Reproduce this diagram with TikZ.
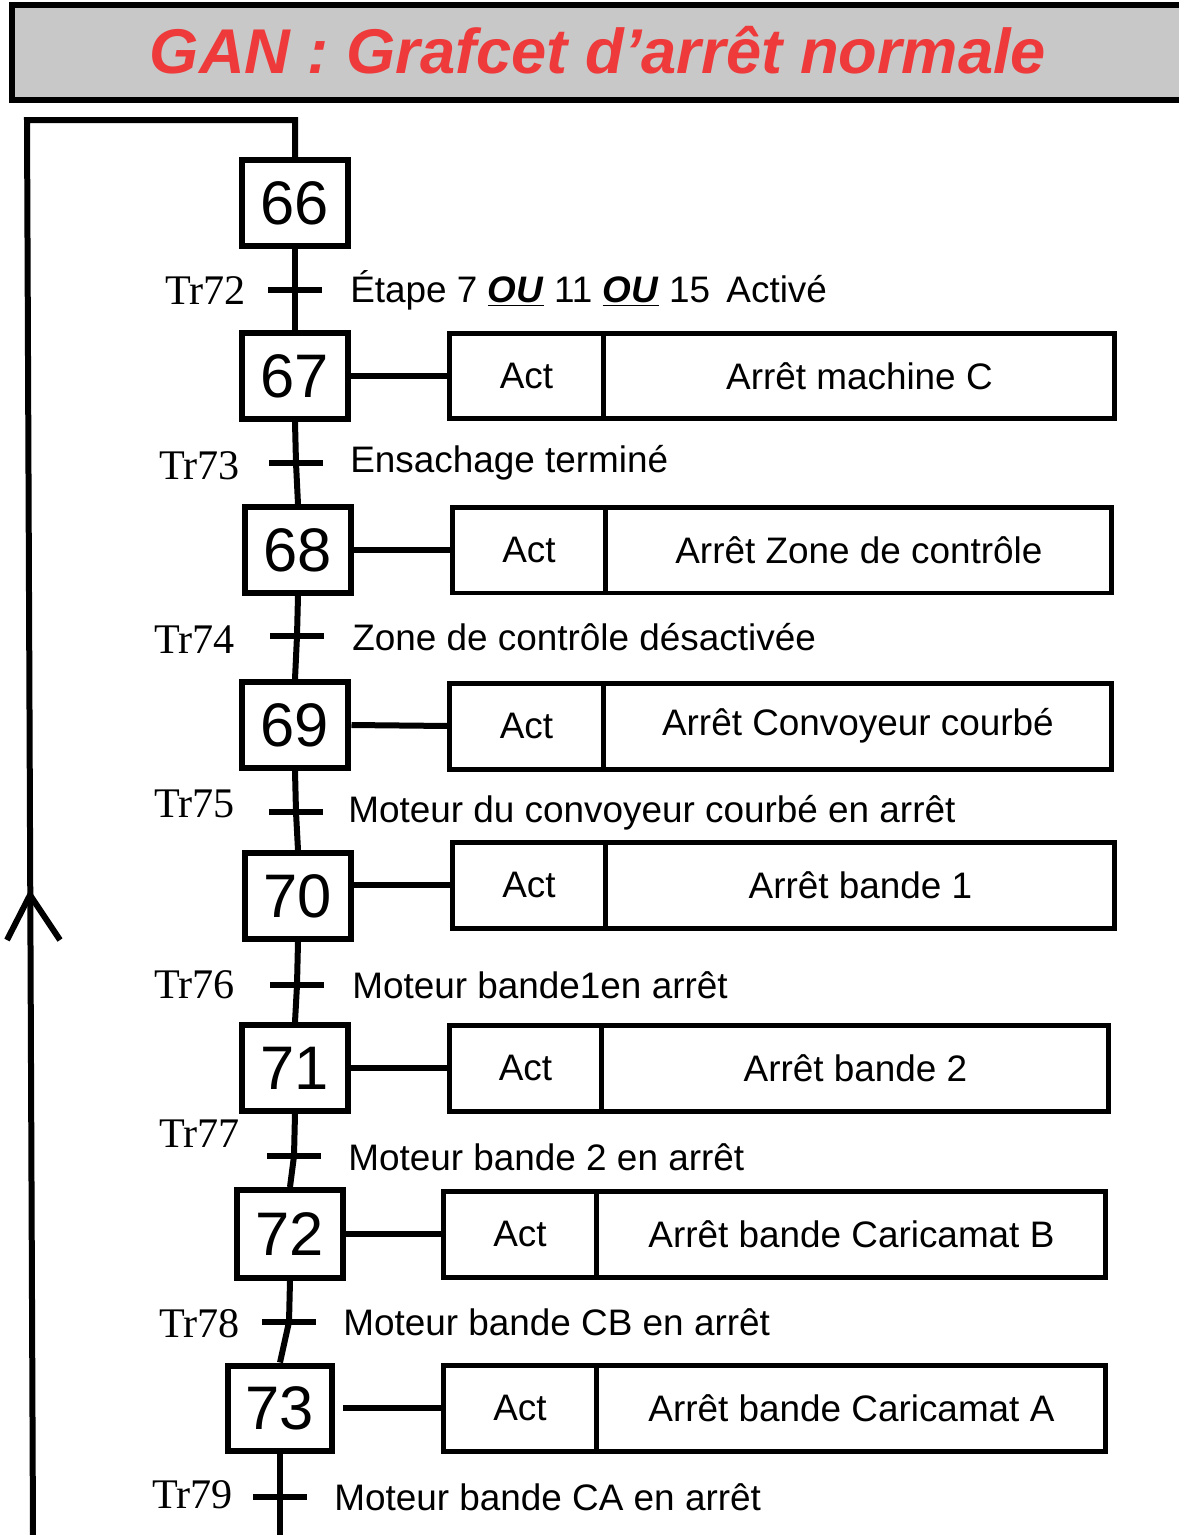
\documentclass[tikz,border=0pt]{standalone}
\usepackage{fontspec}
\setmainfont{Liberation Sans}
\newfontfamily\serifTr{Liberation Serif}
\definecolor{titlered}{RGB}{238,58,58}
\definecolor{titlegray}{RGB}{200,200,200}
\begin{document}
\begin{tikzpicture}[x=0.02cm,y=-0.02cm,
  wire/.style={line width=0.12cm},
  stepbox/.style={draw,line width=0.12cm,minimum width=2.14cm,minimum height=1.72cm,inner sep=0pt,font=\fontsize{35}{35}\selectfont},
  actcell/.style={draw,line width=0.1cm,outer sep=0pt,minimum width=3.08cm,minimum height=1.72cm,inner sep=0pt,anchor=west,font=\fontsize{21}{21}\selectfont},
  txtcell/.style={draw,line width=0.1cm,outer sep=0pt,minimum width=10.16cm,minimum height=1.72cm,inner sep=0pt,anchor=west,font=\fontsize{21}{21}\selectfont},
  trname/.style={anchor=east,inner sep=0pt,font=\serifTr\fontsize{24}{24}\selectfont},
  trtext/.style={anchor=west,inner sep=0pt,font=\fontsize{21}{21}\selectfont},
  bar/.style={line width=0.12cm}]
\useasboundingbox (0,0) rectangle (1179,1535);
% title
\draw[line width=0.12cm,fill=titlegray] (12,5) rectangle (1190,100);
\node[inner sep=0pt,text=titlered,font=\fontsize{36}{36}\selectfont\bfseries\itshape] (title) at (598,50) {GAN : Grafcet d'arrêt normale};
% steps
\node[stepbox] (s66) at (295,203) {66};
\node[stepbox] (s67) at (295,376) {67};
\node[stepbox] (s68) at (298,550) {68};
\node[stepbox] (s69) at (295,725) {69};
\node[stepbox] (s70) at (298,896) {70};
\node[stepbox] (s71) at (295,1068) {71};
\node[stepbox,minimum height=1.76cm] (s72) at (290,1234) {72};
\node[stepbox,minimum width=2.1cm,minimum height=1.7cm] (s73) at (280,1408) {73};
% transitions
\coordinate (t72) at (295,290);
\coordinate (t73) at (296,463);
\coordinate (t74) at (297,636);
\coordinate (t75) at (296,812);
\coordinate (t76) at (297,985);
\coordinate (t77) at (294,1156);
\coordinate (t78) at (289,1322);
\coordinate (t79) at (280,1497);
\coordinate (endB) at (280,1535);
\draw[wire] (s66.south) -- (t72) -- (s67.north);
\draw[wire] (s67.south) -- (t73) -- (s68.north);
\draw[wire] (s68.south) -- (t74) -- (s69.north);
\draw[wire] (s69.south) -- (t75) -- (s70.north);
\draw[wire] (s70.south) -- (t76) -- (s71.north);
\draw[wire] (s71.south) -- (t77) -- (s72.north);
\draw[wire] (s72.south) -- (t78) -- (s73.north);
\draw[wire] (s73.south) -- (t79) -- (endB);
\foreach \t in {t72,t73,t74,t75,t76,t77,t78,t79}
  \draw[bar] (\t) ++(-27,0) -- ++(54,0);
% transition names
\node[trname] (n72) at (246,291) {Tr72};
\node[trname] (n73) at (240,466) {Tr73};
\node[trname] (n74) at (235,640) {Tr74};
\node[trname] (n75) at (235,804) {Tr75};
\node[trname] (n76) at (235,985) {Tr76};
\node[trname] (n77) at (240,1134) {Tr77};
\node[trname] (n78) at (240,1324) {Tr78};
\node[trname] (n79) at (233,1495) {Tr79};
% receptivities
\node[trtext] (r72) at (350,290) {Étape 7 \underline{\textbf{\textit{OU}}} 11 \underline{\textbf{\textit{OU}}} 15\, Activé};
\node[trtext] (r73) at (350,463) {Ensachage terminé};
\node[trtext] (r74) at (352,637) {Zone de contrôle désactivée};
\node[trtext] (r75) at (348,813) {Moteur du convoyeur courbé en arrêt};
\node[trtext] (r76) at (352,985) {Moteur bande1en arrêt};
\node[trtext] (r77) at (348,1157) {Moteur bande 2 en arrêt};
\node[trtext] (r78) at (343,1322) {Moteur bande CB en arrêt};
\node[trtext] (r79) at (334,1497) {Moteur bande CA en arrêt};
% actions
\node[actcell,minimum width=3.1cm] (a67) at (449,376) {Act};
\node[txtcell,minimum width=10.22cm] (b67) at (a67.east) {Arrêt machine C};
\node[actcell] (a68) at (452,550) {Act};
\node[txtcell,minimum width=10.12cm] (b68) at (a68.east) {Arrêt Zone de contrôle};
\node[actcell,minimum width=3.1cm] (a69) at (449,726) {Act};
\node[txtcell] (b69) at (a69.east) {Arrêt Convoyeur courbé};
\node[actcell] (a70) at (452,885) {Act};
\node[txtcell,minimum width=10.18cm] (b70) at (a70.east) {Arrêt bande 1};
\node[actcell,minimum width=3.06cm] (a71) at (449,1068) {Act};
\node[txtcell,minimum width=10.14cm] (b71) at (a71.east) {Arrêt bande 2};
\node[actcell] (a72) at (443,1234) {Act};
\node[txtcell,minimum width=10.18cm] (b72) at (a72.east) {Arrêt bande Caricamat B};
\node[actcell] (a73) at (443,1408) {Act};
\node[txtcell,minimum width=10.18cm] (b73) at (a73.east) {Arrêt bande Caricamat A};
\draw[wire] (s67.east) -- (a67.west);
\draw[wire] (s68.east) -- (a68.west);
\draw[wire] (s69.east) -- (a69.west);
\draw[wire] (s70.east |- a70.west) -- (a70.west);
\draw[wire] (s71.east) -- (a71.west);
\draw[wire] (s72.east) -- (a72.west);
\draw[wire] ([xshift=0.16cm]s73.east) -- (a73.west);
% return loop
\coordinate (topL) at (27,120);
\coordinate (botL) at (33,1535);
\coordinate (tip) at (30,895);
\draw[wire] (s66.north) |- (topL) -- (botL);
\draw[wire,line join=miter] (7,940) -- (tip) -- (60,940);
\end{tikzpicture}
\end{document}
